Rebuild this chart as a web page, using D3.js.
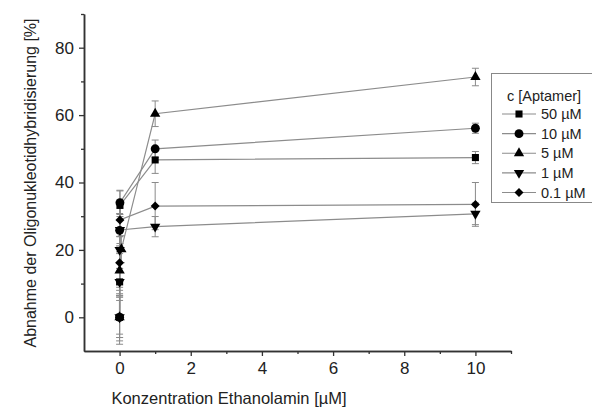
<!DOCTYPE html>
<html><head><meta charset="utf-8">
<script src="https://cdn.jsdelivr.net/npm/d3@7"></script>
<style>
html,body{margin:0;padding:0;background:#fff;}
svg{display:block;font-family:"Liberation Sans",Arial,sans-serif;}
</style></head>
<body><svg id="chart" width="592" height="410"></svg>
<script>
// ---- data ----
const seriesNames = ["50 µM", "10 µM", "5 µM", "1 µM", "0.1 µM"];
const seriesSymbols = ["square", "circle", "triangle", "triangleDown", "diamond"];
const x50 = [0, 0.001, 0.01, 1, 10];
const y50 = [0, 10.5, 33.2, 46.7, 47.4];
const e50 = [6, 4, 4.5, 4, 1.8];
const x10 = [0, 0.001, 0.01, 1, 10];
const y10 = [0, 25.8, 34.0, 50.0, 56.1];
const e10 = [7, 5, 3.5, 2.6, 1.5];
const x5 = [0, 0.001, 0.05, 1, 10];
const y5 = [0, 13.9, 20.2, 60.4, 71.3];
const e5 = [6, 5, 4, 3.8, 2.6];
const x1 = [0, 0.0001, 0.001, 0.01, 1, 10];
const y1 = [0, 10.5, 20.0, 25.9, 26.9, 30.7];
const e1 = [5, 4, 4, 4, 3, 3.2];
const x01 = [0, 0.001, 0.01, 1, 10];
const y01 = [0, 16.2, 28.9, 33.0, 33.5];
const e01 = [8, 5, 5, 7, 6.5];
const xTicks = [0, 2, 4, 6, 8, 10];
const xMinorTicks = [1, 3, 5, 7, 9, 11];
const yTicks = [0, 20, 40, 60, 80];
const yMinorTicks = [10, 30, 50, 70, 90];
const xTitle = "Konzentration Ethanolamin [µM]";
const yTitle = "Abnahme der Oligonukleotidhybridisierung [%]";
const legendTitle = "c [Aptamer]";

const seriesX = [x50, x10, x5, x1, x01];
const seriesY = [y50, y10, y5, y1, y01];
const seriesE = [e50, e10, e5, e1, e01];

// ---- drawing ----
const svg = d3.select("#chart");
const x = d3.scaleLinear().domain([-1, 11]).range([84, 511]);
const y = d3.scaleLinear().domain([-10, 90]).range([351, 14]);

const axisColor = "#333";
const lineColor = "#8c8c8c";
const errColor = "#8a8a8a";

function symbolPath(name) {
  switch (name) {
    case "square": return {d: d3.symbol().type(d3.symbolSquare).size(50)(), rot: 0};
    case "circle": return {d: d3.symbol().type(d3.symbolCircle).size(62)(), rot: 0};
    case "triangle": return {d: d3.symbol().type(d3.symbolTriangle).size(46)(), rot: 0};
    case "triangleDown": return {d: d3.symbol().type(d3.symbolTriangle).size(46)(), rot: 180};
    case "diamond": return {d: d3.symbol().type(d3.symbolSquare).size(40)(), rot: 45};
  }
}

const plot = svg.append("g");

seriesNames.forEach((name, i) => {
  const pts = seriesX[i].map((xv, j) => ({x: xv, y: seriesY[i][j], e: seriesE[i][j]}));
  const g = plot.append("g");
  pts.forEach(p => {
    const cx = x(p.x), t = y(p.y + p.e), b = y(p.y - p.e);
    g.append("line").attr("x1", cx).attr("x2", cx).attr("y1", t).attr("y2", b)
      .attr("stroke", errColor).attr("stroke-width", 1);
    [t, b].forEach(yy => g.append("line").attr("x1", cx - 3.5).attr("x2", cx + 3.5)
      .attr("y1", yy).attr("y2", yy).attr("stroke", errColor).attr("stroke-width", 1));
  });
  g.append("path").datum(pts)
    .attr("d", d3.line().x(d => x(d.x)).y(d => y(d.y)))
    .attr("fill", "none").attr("stroke", lineColor).attr("stroke-width", 1.2);
});
seriesNames.forEach((name, i) => {
  const s = symbolPath(seriesSymbols[i]);
  plot.append("g").selectAll("path")
    .data(seriesX[i].map((xv, j) => ({x: xv, y: seriesY[i][j]})))
    .join("path")
    .attr("d", s.d)
    .attr("transform", d => `translate(${x(d.x)},${y(d.y)}) rotate(${s.rot})`)
    .attr("fill", "#000");
});

// axes
const xAxis = svg.append("g").attr("transform", `translate(0,${y(-10)})`)
  .call(d3.axisBottom(x).tickValues(xTicks).tickSize(5).tickSizeOuter(0).tickPadding(6));
const xMinor = svg.append("g").attr("transform", `translate(0,${y(-10)})`)
  .call(d3.axisBottom(x).tickValues(xMinorTicks).tickSize(3).tickSizeOuter(0).tickFormat(""));
const yAxis = svg.append("g").attr("transform", `translate(${x(-1)},0)`)
  .call(d3.axisLeft(y).tickValues(yTicks).tickSize(5).tickSizeOuter(0).tickPadding(5));
const yMinor = svg.append("g").attr("transform", `translate(${x(-1)},0)`)
  .call(d3.axisLeft(y).tickValues(yMinorTicks).tickSize(3).tickSizeOuter(0).tickFormat(""));
[xAxis, xMinor, yAxis, yMinor].forEach(a => {
  a.select(".domain").attr("stroke", axisColor).attr("stroke-width", 1.5);
  a.selectAll(".tick line").attr("stroke", axisColor).attr("stroke-width", 1.3);
  a.selectAll("text").attr("fill", "#222").style("font-size", "17px")
    .style("font-family", "'Liberation Sans', Arial, sans-serif");
});

// axis titles
svg.append("text").attr("x", 229).attr("y", 404).attr("text-anchor", "middle")
  .attr("fill", "#222").style("font-size", "16.5px").text(xTitle);
svg.append("text").attr("transform", "translate(36,183) rotate(-90)")
  .attr("text-anchor", "middle").attr("fill", "#222").style("font-size", "16px").text(yTitle);

// legend
const lg = svg.append("g");
lg.append("rect").attr("x", 491.5).attr("y", 73.5).attr("width", 130).attr("height", 129)
  .attr("fill", "#fff").attr("stroke", "#888").attr("stroke-width", 1);
lg.append("text").attr("x", 544).attr("y", 101).attr("text-anchor", "middle")
  .attr("fill", "#222").style("font-size", "14.5px").text(legendTitle);
const rowY = d3.scaleLinear().domain([0, 4]).range([114, 192.5]);
seriesNames.forEach((name, i) => {
  const yy = rowY(i);
  lg.append("line").attr("x1", 502).attr("x2", 536).attr("y1", yy).attr("y2", yy)
    .attr("stroke", lineColor).attr("stroke-width", 1.2);
  const s = symbolPath(seriesSymbols[i]);
  lg.append("path").attr("d", s.d).attr("transform", `translate(519,${yy}) rotate(${s.rot})`)
    .attr("fill", "#000");
  lg.append("text").attr("x", 541).attr("y", yy).attr("dy", "0.36em")
    .attr("fill", "#222").style("font-size", "14.5px").text(name);
});
</script></body></html>
